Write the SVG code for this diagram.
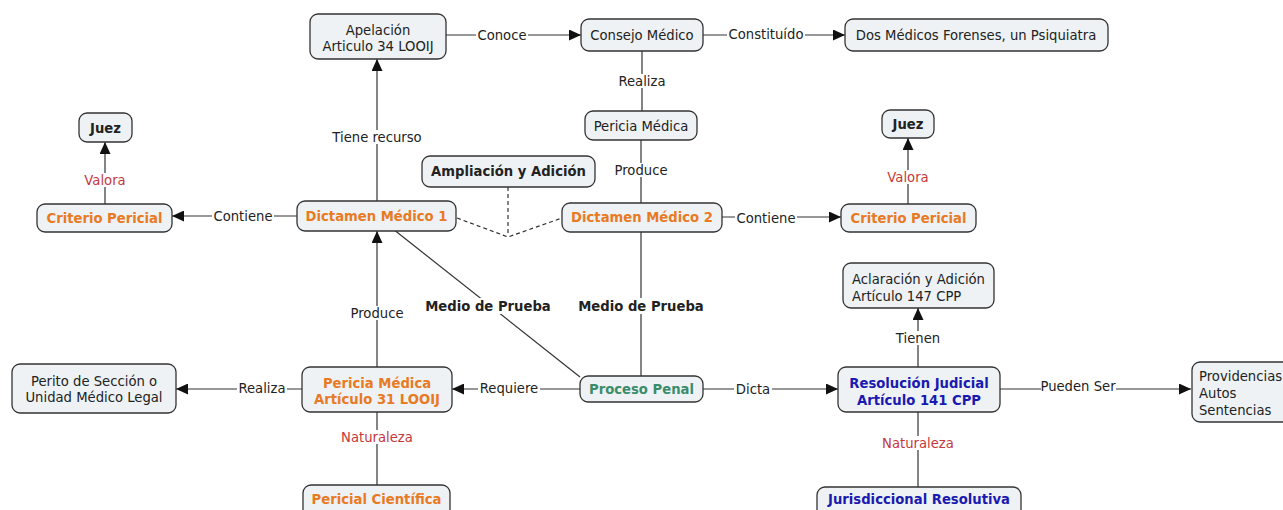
<svg xmlns="http://www.w3.org/2000/svg" width="1283" height="510" viewBox="0 0 1283 510">
<style>
text{font-family:"DejaVu Sans","Liberation Sans",sans-serif;font-size:13.2px;fill:#222}
.n{fill:#eef2f5;stroke:#333;stroke-width:1.3}
.c{text-anchor:middle}
.b{font-weight:bold}
.o{fill:#e87a24}
.g{fill:#3b8c6a}
.bl{fill:#1a1ab0}
.r{fill:#c4383c}
.e{stroke:#333;stroke-width:1.2;fill:none}
.d{stroke:#333;stroke-width:1.2;fill:none;stroke-dasharray:4 3}
.lb{fill:#fff}
</style>
<defs>
<marker id="ah" markerUnits="userSpaceOnUse" markerWidth="12" markerHeight="11" refX="12" refY="5.5" orient="auto">
<path d="M0,0 L12,5.5 L0,11 z" fill="#111"/>
</marker>
</defs>
<rect width="1283" height="510" fill="#fff"/>
<g id="connectors">
<line class="e" x1="446" y1="35" x2="581" y2="35" marker-end="url(#ah)"/>
<line class="e" x1="703" y1="35" x2="845" y2="35" marker-end="url(#ah)"/>
<line class="e" x1="642" y1="51" x2="642" y2="111"/>
<line class="e" x1="641" y1="140" x2="641" y2="203"/>
<line class="e" x1="377" y1="201" x2="377" y2="59" marker-end="url(#ah)"/>
<line class="e" x1="297" y1="216" x2="172" y2="216" marker-end="url(#ah)"/>
<line class="e" x1="105" y1="204" x2="105" y2="142" marker-end="url(#ah)"/>
<line class="e" x1="722" y1="217" x2="841" y2="217" marker-end="url(#ah)"/>
<line class="e" x1="908" y1="204" x2="908" y2="138" marker-end="url(#ah)"/>
<polyline class="d" points="457,218 508,237 562,218"/>
<line class="d" x1="508" y1="187" x2="508" y2="235"/>
<line class="e" x1="377" y1="367" x2="377" y2="231" marker-end="url(#ah)"/>
<line class="e" x1="393" y1="229" x2="580" y2="377"/>
<line class="e" x1="641" y1="376" x2="641" y2="232"/>
<line class="e" x1="580" y1="389" x2="452" y2="389" marker-end="url(#ah)"/>
<line class="e" x1="302" y1="389" x2="176" y2="389" marker-end="url(#ah)"/>
<line class="e" x1="377" y1="412" x2="377" y2="485"/>
<line class="e" x1="703" y1="389" x2="838" y2="389" marker-end="url(#ah)"/>
<line class="e" x1="918" y1="367" x2="918" y2="308" marker-end="url(#ah)"/>
<line class="e" x1="1000" y1="389" x2="1191" y2="389" marker-end="url(#ah)"/>
<line class="e" x1="918" y1="412" x2="918" y2="487"/>
<rect class="lb" x="476" y="28" width="52" height="14"/>
<text class="c" x="502" y="39.5">Conoce</text>
<rect class="lb" x="727" y="27" width="78" height="14"/>
<text class="c" x="766" y="38.5">Constituído</text>
<rect class="lb" x="618" y="74" width="48" height="14"/>
<text class="c" x="642" y="85.5">Realiza</text>
<rect class="lb" x="614" y="163" width="55" height="14"/>
<text class="c" x="641" y="174.5">Produce</text>
<rect class="lb" x="331" y="130" width="92" height="14"/>
<text class="c" x="377" y="141.5">Tiene recurso</text>
<rect class="lb" x="212" y="209" width="62" height="14"/>
<text class="c" x="243" y="220.5">Contiene</text>
<rect class="lb" x="82" y="173" width="46" height="14"/>
<text class="c r" x="105" y="184.5">Valora</text>
<rect class="lb" x="735" y="210" width="62" height="14"/>
<text class="c" x="766" y="222.5">Contiene</text>
<rect class="lb" x="886" y="170" width="45" height="14"/>
<text class="c r" x="908" y="181.5">Valora</text>
<rect class="lb" x="350" y="306" width="55" height="14"/>
<text class="c" x="377" y="317.5">Produce</text>
<rect class="lb" x="425" y="298" width="127" height="16"/>
<text class="c b" x="488" y="310.5">Medio de Prueba</text>
<rect class="lb" x="578" y="298" width="127" height="16"/>
<text class="c b" x="641" y="310.5">Medio de Prueba</text>
<rect class="lb" x="478" y="381" width="62" height="14"/>
<text class="c" x="509" y="392.5">Requiere</text>
<rect class="lb" x="237" y="381" width="50" height="14"/>
<text class="c" x="262" y="392.5">Realiza</text>
<rect class="lb" x="340" y="430" width="74" height="14"/>
<text class="c r" x="377" y="441.5">Naturaleza</text>
<rect class="lb" x="734" y="382" width="38" height="14"/>
<text class="c" x="753" y="393.5">Dicta</text>
<rect class="lb" x="894" y="331" width="48" height="14"/>
<text class="c" x="918" y="342.5">Tienen</text>
<rect class="lb" x="1041" y="379" width="75" height="14"/>
<text class="c" x="1078" y="390.5">Pueden Ser</text>
<rect class="lb" x="881" y="436" width="74" height="14"/>
<text class="c r" x="918" y="447.5">Naturaleza</text>
</g>
<g id="apelacion"><rect class="n" x="310" y="14" width="136" height="45" rx="8"/><text class="c" x="378" y="34.5">Apelación</text><text class="c" x="378" y="50.5">Articulo 34 LOOIJ</text></g>
<g id="consejo"><rect class="n" x="581" y="19" width="122" height="32" rx="8"/><text class="c" x="642" y="39.5">Consejo Médico</text></g>
<g id="dos-medicos"><rect class="n" x="845" y="19" width="263" height="32" rx="8"/><text class="c" x="976" y="39.5">Dos Médicos Forenses, un Psiquiatra</text></g>
<g id="pericia-top"><rect class="n" x="585" y="111" width="112" height="29" rx="8"/><text class="c" x="641" y="130.5">Pericia Médica</text></g>
<g id="juez-left"><rect class="n" x="79" y="113" width="53" height="29" rx="8"/><text class="c b" x="105.5" y="132.5">Juez</text></g>
<g id="juez-right"><rect class="n" x="882" y="110" width="52" height="28" rx="8"/><text class="c b" x="908" y="128.5">Juez</text></g>
<g id="ampliacion"><rect class="n" x="422" y="156" width="173" height="31" rx="8"/><text class="c b" x="508.5" y="175.5">Ampliación y Adición</text></g>
<g id="criterio-left"><rect class="n" x="37" y="204" width="135" height="28" rx="8"/><text class="c b o" x="104.5" y="222.5">Criterio Pericial</text></g>
<g id="dictamen1"><rect class="n" x="297" y="201" width="159" height="30" rx="8"/><text class="c b o" x="376.5" y="220.5">Dictamen Médico 1</text></g>
<g id="dictamen2"><rect class="n" x="562" y="203" width="160" height="29" rx="8"/><text class="c b o" x="642" y="222">Dictamen Médico 2</text></g>
<g id="criterio-right"><rect class="n" x="841" y="204" width="135" height="28" rx="8"/><text class="c b o" x="908.5" y="222.5">Criterio Pericial</text></g>
<g id="aclaracion"><rect class="n" x="843" y="263" width="151" height="45" rx="8"/><text x="852" y="283.5">Aclaración y Adición</text><text x="852" y="300.5">Artículo 147 CPP</text></g>
<g id="perito"><rect class="n" x="12" y="364" width="164" height="49" rx="8"/><text class="c" x="94" y="385.5">Perito de Sección o</text><text class="c" x="94" y="401.5">Unidad Médico Legal</text></g>
<g id="pericia31"><rect class="n" x="302" y="367" width="150" height="45" rx="8"/><text class="c b o" x="377" y="387.5">Pericia Médica</text><text class="c b o" x="377" y="403.5">Artículo 31 LOOIJ</text></g>
<g id="proceso"><rect class="n" x="580" y="376" width="123" height="26" rx="8"/><text class="c b g" x="641.5" y="393.5">Proceso Penal</text></g>
<g id="resolucion"><rect class="n" x="838" y="367" width="162" height="45" rx="8"/><text class="c b bl" x="919" y="387.5">Resolución Judicial</text><text class="c b bl" x="919" y="404.5">Artículo 141 CPP</text></g>
<g id="providencias"><rect class="n" x="1192" y="362" width="100" height="60" rx="8"/><text x="1199" y="381">Providencias</text><text x="1199" y="397.5">Autos</text><text x="1199" y="414.5">Sentencias</text></g>
<g id="pericial-cientifica"><rect class="n" x="303" y="485" width="147" height="40" rx="8"/><text class="c b o" x="376.5" y="503.5">Pericial Científica</text></g>
<g id="jurisdiccional"><rect class="n" x="817" y="487" width="204" height="40" rx="8"/><text class="c b bl" x="919" y="503.5">Jurisdiccional Resolutiva</text></g>
</svg>
